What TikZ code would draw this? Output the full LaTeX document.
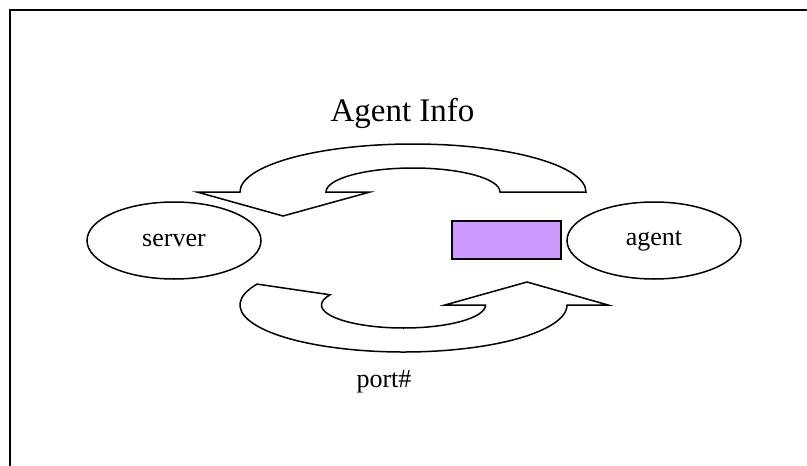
\documentclass[tikz,border=0pt]{standalone}
\usepackage{fontspec}
\setmainfont{Liberation Serif}
\usetikzlibrary{shapes.geometric}
\definecolor{lavender}{RGB}{204,153,255}
\begin{document}
\begin{tikzpicture}[x=1pt,y=-1pt,
  txt/.style={font=\fontsize{26}{30}\selectfont, inner sep=0pt},
  titletxt/.style={font=\fontsize{33}{40}\selectfont, inner sep=0pt},
  oval/.style={ellipse, draw, line width=1.5pt, minimum width=174pt, minimum height=77pt, inner sep=0pt, font=\fontsize{26}{30}\selectfont},
  bar/.style={rectangle, draw, fill=lavender, line width=1.5pt, minimum width=109pt, minimum height=38pt, inner sep=0pt},
  turn/.style={draw, line width=1.5pt, line join=miter, fill=white},
  frame/.style={line width=2pt}]
\useasboundingbox (0,0) rectangle (807,466);
% frame
\draw[frame] (807,10) -- (10,10) -- (10,466);
% nodes
\node[oval] (server) at (174,240.5) {server};
\node[oval] (agent) at (654,240.5) {agent};
\node[bar] (box) at (506.5,240) {};
% upper curved arrow (agent -> server)
\draw[turn] (240,192) arc[start angle=180, end angle=360, x radius=173, y radius=48]
  -- (500,192) arc[start angle=360, end angle=180, x radius=87, y radius=24]
  -- (370,192) -- (283,216) -- (197,192) -- cycle;
% lower curved arrow (server -> agent)
\draw[turn] (403.5,305) ++(206.4:163.5 and 47)
  arc[start angle=206.4, end angle=0, x radius=163.5, y radius=47]
  -- (608,305) -- (527,282) -- (445,305) -- (485.5,305)
  arc[start angle=0, end angle=206.4, x radius=82, y radius=23] -- cycle;
% labels
\node[titletxt, anchor=base] (title) at (402.5,121) {Agent Info};
\node[txt, anchor=base] (port) at (384,387) {port\#};
\end{tikzpicture}
\end{document}
